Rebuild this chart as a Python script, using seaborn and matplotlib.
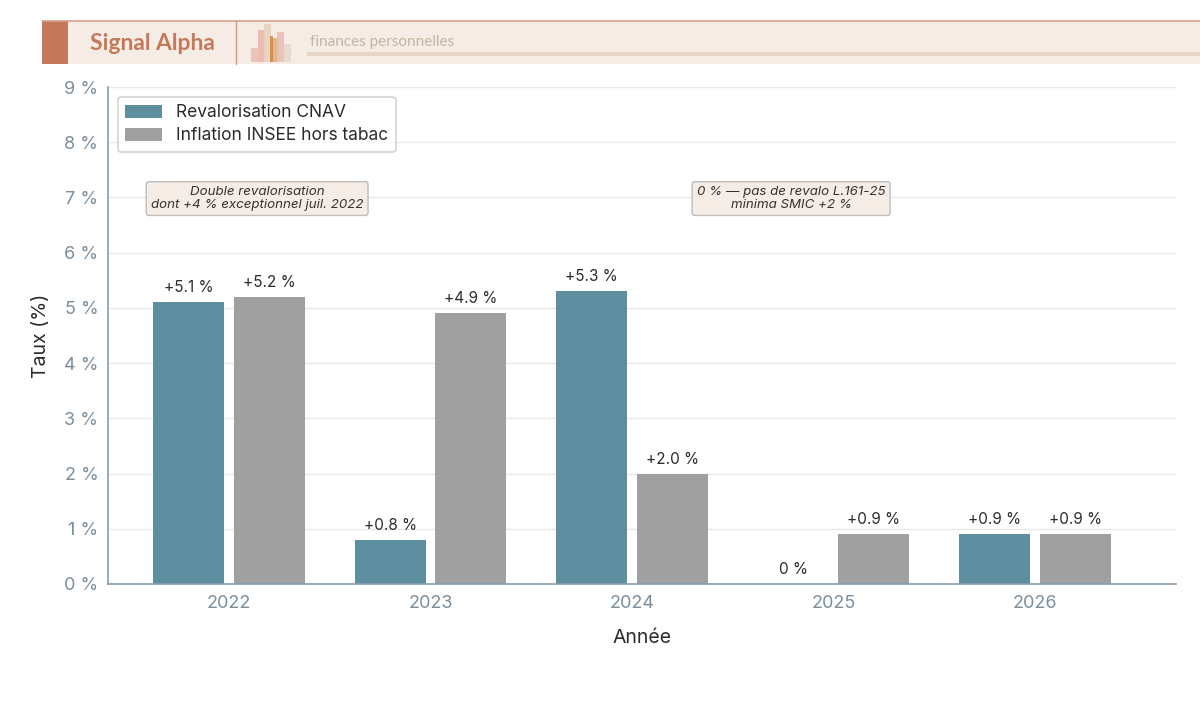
import numpy as np
import pandas as pd
import matplotlib
matplotlib.use("Agg")
import matplotlib.pyplot as plt
from matplotlib.patches import Rectangle
import seaborn as sns

# ---- data ----
years = ["2022", "2023", "2024", "2025", "2026"]
cnav = [5.1, 0.8, 5.3, 0.0, 0.9]
inflation = [5.2, 4.9, 2.0, 0.9, 0.9]
series_names = ["Revalorisation CNAV", "Inflation INSEE hors tabac"]
cnav_labels = ["+5.1 %", "+0.8 %", "+5.3 %", "0 %", "+0.9 %"]
infl_labels = ["+5.2 %", "+4.9 %", "+2.0 %", "+0.9 %", "+0.9 %"]
y_ticks = [0, 1, 2, 3, 4, 5, 6, 7, 8, 9]
y_ticklabels = [f"{t} %" for t in y_ticks]
notes = ["Double revalorisation\ndont +4 % exceptionnel juil. 2022",
         "0 % \u2014 pas de revalo L.161-25\nminima SMIC +2 %"]
note_x = [0.14, 2.79]
note_y = [6.98, 6.98]
logo_heights = [0.35, 0.8, 0.95, 0.6, 0.75, 0.45]

df = pd.DataFrame({
    "Année": years * 2,
    "Taux": cnav + inflation,
    "Série": [series_names[0]] * len(years) + [series_names[1]] * len(years),
})

sns.set_theme(style="white")
plt.rcParams["font.family"] = ["Inter", "DejaVu Sans"]

TEAL = "#5E8FA0"
GREY = "#A0A0A0"
AXC = "#8A9DAC"
TICKC = "#7B8E9C"

fig = plt.figure(figsize=(12, 7.21), dpi=100)
ax = fig.add_axes([0.09, 137 / 721, 0.98 - 0.09, (634 - 137) / 721])

sns.barplot(data=df, x="Année", y="Taux", hue="Série", order=years,
            hue_order=series_names, palette=[TEAL, GREY], width=0.8,
            gap=0.12, ax=ax, saturation=1, edgecolor=None, linewidth=0)

for cont, labs in zip(ax.containers, [cnav_labels, infl_labels]):
    ax.bar_label(cont, labels=labs, padding=5, fontsize=11, color="#2b2b2b")

ax.set_ylim(0, 9)
ax.set_xlim(-0.6, 4.7)
ax.set_yticks(y_ticks)
ax.set_yticklabels(y_ticklabels)
ax.yaxis.grid(True, color="#E8E8E8", linewidth=1)
ax.set_axisbelow(True)
ax.tick_params(axis="y", colors=TICKC, labelsize=13, length=0, pad=7)
ax.tick_params(axis="x", colors=TICKC, labelsize=13, length=0, pad=8)
for s in ["top", "right"]:
    ax.spines[s].set_visible(False)
for s in ["left", "bottom"]:
    ax.spines[s].set_color(AXC)
    ax.spines[s].set_linewidth(1.2)

ax.set_ylabel("Taux (%)", fontsize=14, color="#2b2b2b", labelpad=10)
ax.set_xlabel("Année", fontsize=14, color="#2b2b2b", labelpad=12)

leg = ax.legend(loc="upper left", bbox_to_anchor=(0.0, 1.0), borderaxespad=0.55,
                fontsize=12.5, frameon=True, fancybox=True, edgecolor="#C8C8C8",
                handlelength=2.1, handleheight=0.8, handletextpad=0.8,
                borderpad=0.45, labelspacing=0.35, title=None)
leg.get_frame().set_linewidth(1.2)
for t in leg.get_texts():
    t.set_color("#2b2b2b")

for txt, x, y in zip(notes, note_x, note_y):
    ax.text(x, y, txt, ha="center", va="center", fontsize=9.6, style="italic",
            color="#333333", linespacing=1.05,
            bbox=dict(boxstyle="round,pad=0.35,rounding_size=0.2",
                      facecolor="#F6ECE6", edgecolor="#BDBDBD", linewidth=1))

# ---- header banner ----
W, H = 1200, 721
def fx(px):
    return px / W
def fy(py):
    return 1 - py / H

fig.patches.append(Rectangle((fx(42), fy(64)), fx(1200) - fx(42), fy(21) - fy(64),
                             transform=fig.transFigure, facecolor="#F6ECE6",
                             edgecolor="none", zorder=0))
fig.lines.append(plt.Line2D([fx(42), 1], [fy(21), fy(21)], transform=fig.transFigure,
                            color="#D7A28C", linewidth=1.2))
fig.patches.append(Rectangle((fx(42), fy(64)), fx(26), fy(21) - fy(64),
                             transform=fig.transFigure, facecolor="#C47A5A",
                             edgecolor="none"))
fig.lines.append(plt.Line2D([fx(236), fx(236)], [fy(64), fy(21)], transform=fig.transFigure,
                            color="#D39A80", linewidth=1))
fig.text(fx(90), fy(43), "Signal Alpha", fontsize=16.5, fontweight="bold",
         color="#C47A5A", va="center", ha="left", family=["Lato", "DejaVu Sans"])
fig.text(fx(310), fy(42), "finances personnelles", fontsize=11,
         color="#C6B2A0", va="center", ha="left", family=["Lato", "DejaVu Sans"])
fig.patches.append(Rectangle((fx(307), fy(56)), 1 - fx(307), fy(52) - fy(56),
                             transform=fig.transFigure, facecolor="#E6D6C6",
                             edgecolor="none"))
logo_cols = ["#E9C0B0", "#E8B4AC", "#E6D2BA", "#DFAE80", "#EBBCB4", "#E3D9CB"]
for i, (h, c) in enumerate(zip(logo_heights, logo_cols)):
    x0 = 251 + i * 6.5
    hp = h * 40
    fig.patches.append(Rectangle((fx(x0), fy(62)), fx(7), fy(62 - hp) - fy(62),
                                 transform=fig.transFigure, facecolor=c,
                                 alpha=0.85, edgecolor="none"))
fig.patches.append(Rectangle((fx(270), fy(62)), fx(3), fy(36) - fy(62),
                             transform=fig.transFigure, facecolor="#D9822E",
                             alpha=0.8, edgecolor="none"))

fig.savefig("out.png", dpi=100, facecolor="white")
